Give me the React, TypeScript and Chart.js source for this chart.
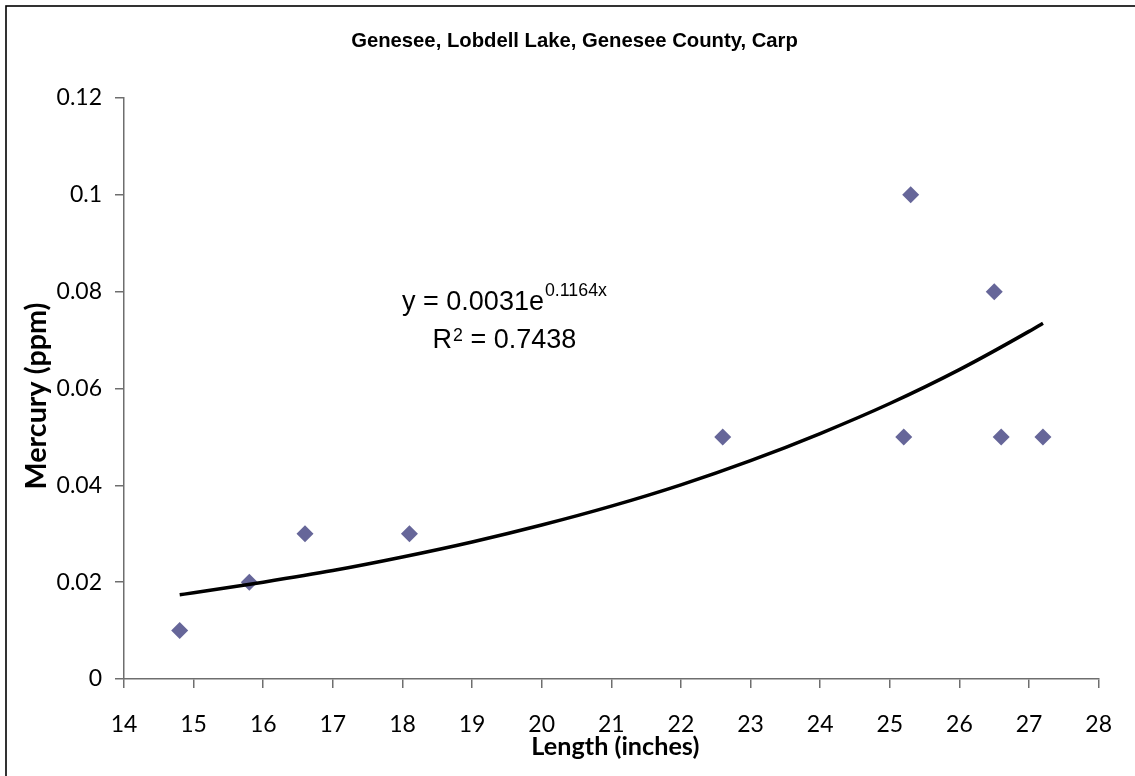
import React, { useEffect, useRef } from "react";
import { Chart, registerables } from "chart.js";

Chart.register(...registerables);

// ---- data ----
const LENGTHS = [14.8, 15.8, 16.6, 18.1, 22.6, 25.2, 25.3, 26.5, 26.6, 27.2];
const MERCURY = [0.01, 0.02, 0.03, 0.03, 0.05, 0.05, 0.1, 0.08, 0.05, 0.05];

// trendline (exponential fit)
const TREND_X = [14.8, 15, 16, 17, 18, 19, 20, 21, 22, 23, 24, 25, 26, 27, 27.2];
const TREND_Y = [0.0174, 0.0178, 0.02, 0.0224, 0.0252, 0.0283, 0.0318, 0.0357, 0.0401, 0.0451, 0.0507, 0.0569, 0.0639, 0.0718, 0.0735];

const X_TICK_LABELS = ["14", "15", "16", "17", "18", "19", "20", "21", "22", "23", "24", "25", "26", "27", "28"];
const Y_TICK_LABELS = ["0", "0.02", "0.04", "0.06", "0.08", "0.1", "0.12"];

const TITLE = "Genesee, Lobdell Lake, Genesee County, Carp";
const X_TITLE = "Length (inches)";
const Y_TITLE = "Mercury (ppm)";
const EQ_MAIN = "y = 0.0031e";
const EQ_EXP = "0.1164x";
const R2_PRE = "R";
const R2_SUP = "2";
const R2_POST = " = 0.7438";
const EQ_ANCHOR_X = 19.465;
const EQ_ANCHOR_Y = 0.0762;

const AXIS_COLOR = "#6e6e6e";
const MARKER_COLOR = "#666699";

function fitSize(ctx: CanvasRenderingContext2D, text: string, weight: string, family: string, target: number) {
  ctx.font = `${weight} 100px ${family}`;
  const w = ctx.measureText(text).width;
  return (100 * target) / w;
}

const textPlugin = {
  id: "customTexts",
  afterDraw(chart: any) {
    const ctx: CanvasRenderingContext2D = chart.ctx;
    const { chartArea, scales } = chart;
    ctx.save();

    // outer frame
    ctx.strokeStyle = "#000";
    ctx.lineWidth = 1.6;
    ctx.strokeRect(6, 6, chart.width + 40, chart.height + 40);

    ctx.fillStyle = "#000";
    ctx.textBaseline = "alphabetic";

    // title
    const arial = "'Liberation Sans', Arial, sans-serif";
    const tSize = fitSize(ctx, TITLE, "bold", arial, 447);
    ctx.font = `bold ${tSize}px ${arial}`;
    ctx.textAlign = "center";
    ctx.fillText(TITLE, chart.width / 2 + 7, 47);

    // x title
    const lato = "Lato, 'Open Sans', sans-serif";
    const xs = fitSize(ctx, X_TITLE, "bold", lato, 168);
    ctx.font = `bold ${xs}px ${lato}`;
    ctx.textAlign = "center";
    ctx.fillText(X_TITLE, (chartArea.left + chartArea.right) / 2 + 4, 755);

    // y title
    const ys = fitSize(ctx, Y_TITLE, "bold", lato, 187);
    ctx.save();
    ctx.font = `bold ${ys}px ${lato}`;
    ctx.translate(46, (chartArea.top + chartArea.bottom) / 2 + 7.5);
    ctx.rotate(-Math.PI / 2);
    ctx.textAlign = "center";
    ctx.fillText(Y_TITLE, 0, 0);
    ctx.restore();

    // equation
    const cx = scales.x.getPixelForValue(EQ_ANCHOR_X);
    const by = scales.y.getPixelForValue(EQ_ANCHOR_Y);
    const mainSize = fitSize(ctx, EQ_MAIN, "normal", arial, 142);
    const supSize = fitSize(ctx, EQ_EXP, "normal", arial, 62);
    const mainFont = `normal ${mainSize}px ${arial}`;
    const supFont = `normal ${supSize}px ${arial}`;
    ctx.textAlign = "left";

    ctx.font = mainFont;
    const w1 = ctx.measureText(EQ_MAIN).width;
    ctx.font = supFont;
    const w2 = ctx.measureText(EQ_EXP).width;
    let x0 = cx - (w1 + w2 + 1) / 2;
    ctx.font = mainFont;
    ctx.fillText(EQ_MAIN, x0, by);
    ctx.font = supFont;
    ctx.fillText(EQ_EXP, x0 + w1 + 1, by - 14);

    const line2 = by + 38;
    ctx.font = mainFont;
    const r1 = ctx.measureText(R2_PRE).width;
    const r3 = ctx.measureText(R2_POST).width;
    ctx.font = supFont;
    const r2 = ctx.measureText(R2_SUP).width;
    x0 = cx - (r1 + r2 + r3 + 1) / 2;
    ctx.font = mainFont;
    ctx.fillText(R2_PRE, x0, line2);
    ctx.font = supFont;
    ctx.fillText(R2_SUP, x0 + r1 + 1, line2 - 7);
    ctx.font = mainFont;
    ctx.fillText(R2_POST, x0 + r1 + r2 + 1, line2);

    ctx.restore();
  },
};

export default function App() {
  const canvasRef = useRef<HTMLCanvasElement | null>(null);

  useEffect(() => {
    if (!canvasRef.current) return;
    const chart = new Chart(canvasRef.current, {
      type: "scatter",
      data: {
        datasets: [
          {
            label: "Trend",
            data: TREND_X.map((x, i) => ({ x, y: TREND_Y[i] })),
            showLine: true,
            borderColor: "#000",
            borderWidth: 3.5,
            pointRadius: 0,
            cubicInterpolationMode: "monotone",
            order: 0,
          } as any,
          {
            label: "Mercury",
            data: LENGTHS.map((x, i) => ({ x, y: MERCURY[i] })),
            pointStyle: "rectRot",
            pointRadius: 8.5,
            pointBackgroundColor: MARKER_COLOR,
            pointBorderColor: MARKER_COLOR,
            pointBorderWidth: 0,
            order: 1,
          } as any,
        ],
      },
      options: {
        animation: false,
        responsive: true,
        maintainAspectRatio: false,
        layout: { padding: { top: 98, right: 35, left: 0, bottom: 0 } },
        plugins: {
          legend: { display: false },
          title: { display: false },
          tooltip: { enabled: false },
        },
        scales: {
          x: {
            type: "linear",
            min: 14,
            max: 28,
            afterFit: (s: any) => {
              s.height = 97;
            },
            ticks: {
              stepSize: 1,
              color: "#000",
              padding: 23,
              font: { family: "Lato", size: 23 },
              callback: (_v: any, i: number) => X_TICK_LABELS[i],
              maxRotation: 0,
            },
            grid: {
              display: true,
              drawOnChartArea: false,
              drawTicks: true,
              tickLength: 9,
              color: AXIS_COLOR,
              lineWidth: 1.5,
            },
            border: { display: true, color: AXIS_COLOR, width: 1.5 },
          },
          y: {
            type: "linear",
            min: 0,
            max: 0.12,
            afterFit: (s: any) => {
              s.width = 124;
            },
            ticks: {
              stepSize: 0.02,
              color: "#000",
              padding: 13,
              font: { family: "Lato", size: 23 },
              callback: (_v: any, i: number) => Y_TICK_LABELS[i],
            },
            grid: {
              display: true,
              drawOnChartArea: false,
              drawTicks: true,
              tickLength: 9,
              color: AXIS_COLOR,
              lineWidth: 1.5,
            },
            border: { display: true, color: AXIS_COLOR, width: 1.5 },
          },
        },
      },
      plugins: [textPlugin],
    });
    return () => chart.destroy();
  }, []);

  return (
    <div style={{ position: "fixed", left: 0, top: 0, width: 1135, height: 776, background: "#fff" }}>
      <canvas ref={canvasRef} />
    </div>
  );
}
